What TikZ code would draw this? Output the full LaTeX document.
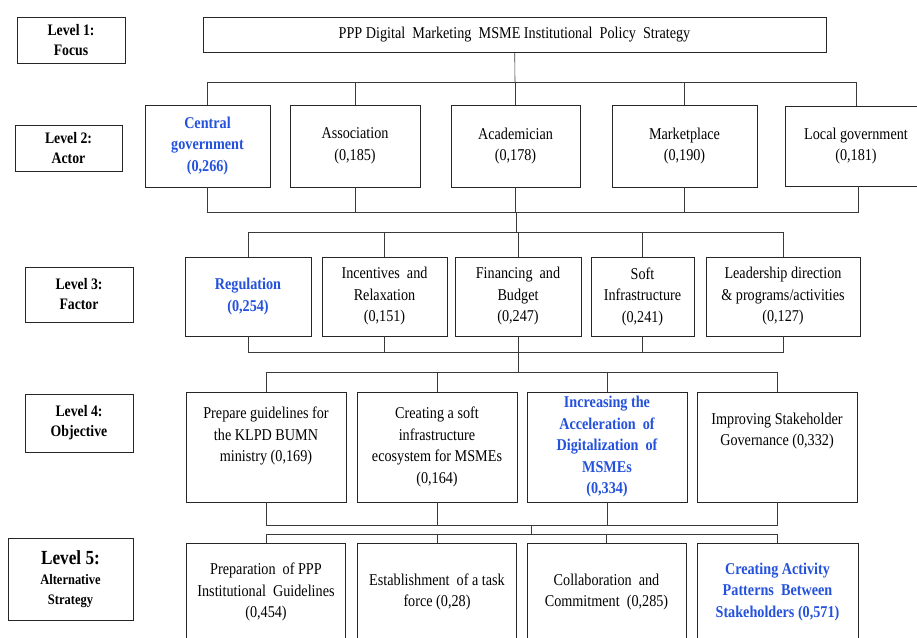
\documentclass[tikz,border=0pt]{standalone}
\usepackage{fontspec}
\setmainfont{Liberation Serif}[FakeStretch=0.86]
\usepackage{tikz}
\usetikzlibrary{calc, positioning}
\definecolor{keyBlue}{HTML}{2452DC}
\definecolor{inkGrey}{HTML}{262626}
\definecolor{lineGrey}{HTML}{3A3A3A}
\tikzset{
  box/.style   = {draw=inkGrey, line width=0.9pt, fill=white, align=center,
                  font=\fontsize{16.5}{21.5}\selectfont, inner sep=2pt},
  lvl/.style   = {box, font=\fontsize{16}{20}\selectfont\bfseries},
  key/.style   = {text=keyBlue, font=\fontsize{16.5}{21.5}\selectfont\bfseries},
  fl/.style    = {draw=lineGrey, line width=0.6pt}
}

\begin{document}
\begin{tikzpicture}[x=1pt, y=-1pt]
  \useasboundingbox (0,0) rectangle (917,637);
  \clip (0,0) rectangle (917,637);

  % --- level labels (left column)
  \node[lvl, minimum width=108, minimum height=46] (lv1) at (71,40) {Level 1:\\ Focus};
  \node[lvl, minimum width=107, minimum height=46] (lv2) at (68.5,148) {Level 2:\\ Actor};
  \node[lvl, minimum width=108, minimum height=55] (lv3) at (79,294.5) {Level 3:\\ Factor};
  \node[lvl, minimum width=108, minimum height=58] (lv4) at (79,423) {Level 4:\\ Objective};
  \node[lvl, minimum width=125, minimum height=82] (lv5) at (70.5,579)
       {{\fontsize{20}{22}\selectfont Level 5:}\\ {\fontsize{14.5}{20}\selectfont Alternative}\\ {\fontsize{14.5}{20}\selectfont Strategy}};

  % --- level 1
  \node[box, minimum width=623, minimum height=35] (focus) at (514.5,34.5)
       {PPP Digital \ Marketing \ MSME Institutional \ Policy \ Strategy};

  % --- level 2: actors
  \node[box, key, minimum width=125, minimum height=82] (cgov) at (207.5,146) {Central\\ government\\ (0,266)};
  \node[box, minimum width=130, minimum height=82] (assoc) at (355,146) {Association\\ (0,185)};
  \node[box, minimum width=129, minimum height=82] (acad) at (515.5,146) {Academician\\ (0,178)};
  \node[box, minimum width=145, minimum height=82] (market) at (684.5,146) {Marketplace\\ (0,190)};
  \node[box, minimum width=142, minimum height=80] (lgov) at (856,146) {Local government\\ (0,181)};

  % --- level 3: factors
  \node[box, key, minimum width=126, minimum height=79] (reg) at (248,296.5) {Regulation\\ (0,254)};
  \node[box, minimum width=125, minimum height=79] (incent) at (384.5,296.5) {Incentives \ and\\ Relaxation\\ (0,151)};
  \node[box, minimum width=126, minimum height=79] (fin) at (518,296.5) {Financing \ and\\ Budget\\ (0,247)};
  \node[box, minimum width=103, minimum height=79] (soft) at (642.5,296.5) {Soft\\ Infrastructure\\ (0,241)};
  \node[box, minimum width=154, minimum height=79] (lead) at (783,296.5) {Leadership direction\\ \& programs/activities\\ (0,127)};

  % --- level 4: objectives
  \node[box, minimum width=160, minimum height=110] (guide) at (266,447)
       {Prepare guidelines for\\ the KLPD BUMN\\ ministry (0,169)\\[4pt]};
  \node[box, minimum width=160, minimum height=110] (ecosys) at (437,447)
       {Creating a soft\\ infrastructure\\ ecosystem for MSMEs\\ (0,164)};
  \node[box, key, minimum width=160, minimum height=110] (accel) at (607,447)
       {Increasing the\\ Acceleration \ of\\ Digitalization \ of\\ MSMEs\\ (0,334)};
  \node[box, minimum width=160, minimum height=110] (govern) at (777,447)
       {Improving Stakeholder\\ Governance (0,332)\\[14pt]};

  % --- level 5: alternative strategies
  \node[box, minimum width=159, minimum height=98] (prep) at (266,592)
       {Preparation \ of PPP\\ Institutional \ Guidelines\\ (0,454)};
  \node[box, minimum width=159, minimum height=98] (task) at (437,592)
       {Establishment \ of a task\\ force (0,28)};
  \node[box, minimum width=159, minimum height=98] (collab) at (606.5,592)
       {Collaboration \ and\\ Commitment \ (0,285)};
  \node[box, key, minimum width=161, minimum height=98] (pattern) at (777.5,592)
       {Creating Activity\\ Patterns \ Between\\ Stakeholders (0,571)};

  % --- junctions
  \coordinate (j1) at (515,82);
  \coordinate (j2) at (516,212);
  \coordinate (j3) at (516,232);
  \coordinate (j4) at (518,352);
  \coordinate (j5) at (518,372);
  \coordinate (j6) at (531,525);
  \coordinate (j7) at (531,534);

  % level 1 -> level 2
  \draw[fl] (focus) -- (j1);
  \foreach \n in {cgov, assoc, acad, market, lgov}
    \draw[fl] (j1) -| (\n);

  % level 2 -> level 3
  \foreach \n in {cgov, assoc, acad, market}
    \draw[fl] (\n) |- (j2);
  \draw[fl] (lgov.south -| 858,0) |- (j2);
  \draw[fl] (j2) -- (j3);
  \foreach \n in {reg, incent, fin, soft, lead}
    \draw[fl] (j3) -| (\n);

  % level 3 -> level 4
  \foreach \n in {reg, incent, fin, soft, lead}
    \draw[fl] (\n) |- (j4);
  \draw[fl] (j4) -- (j5);
  \foreach \n in {guide, ecosys, accel, govern}
    \draw[fl] (j5) -| (\n);

  % level 4 -> level 5
  \foreach \n in {guide, ecosys, accel, govern}
    \draw[fl] (\n) |- (j6);
  \draw[fl] (j6) -- (j7);
  \foreach \n in {prep, task, collab, pattern}
    \draw[fl] (j7) -| (\n);
\end{tikzpicture}
\end{document}
